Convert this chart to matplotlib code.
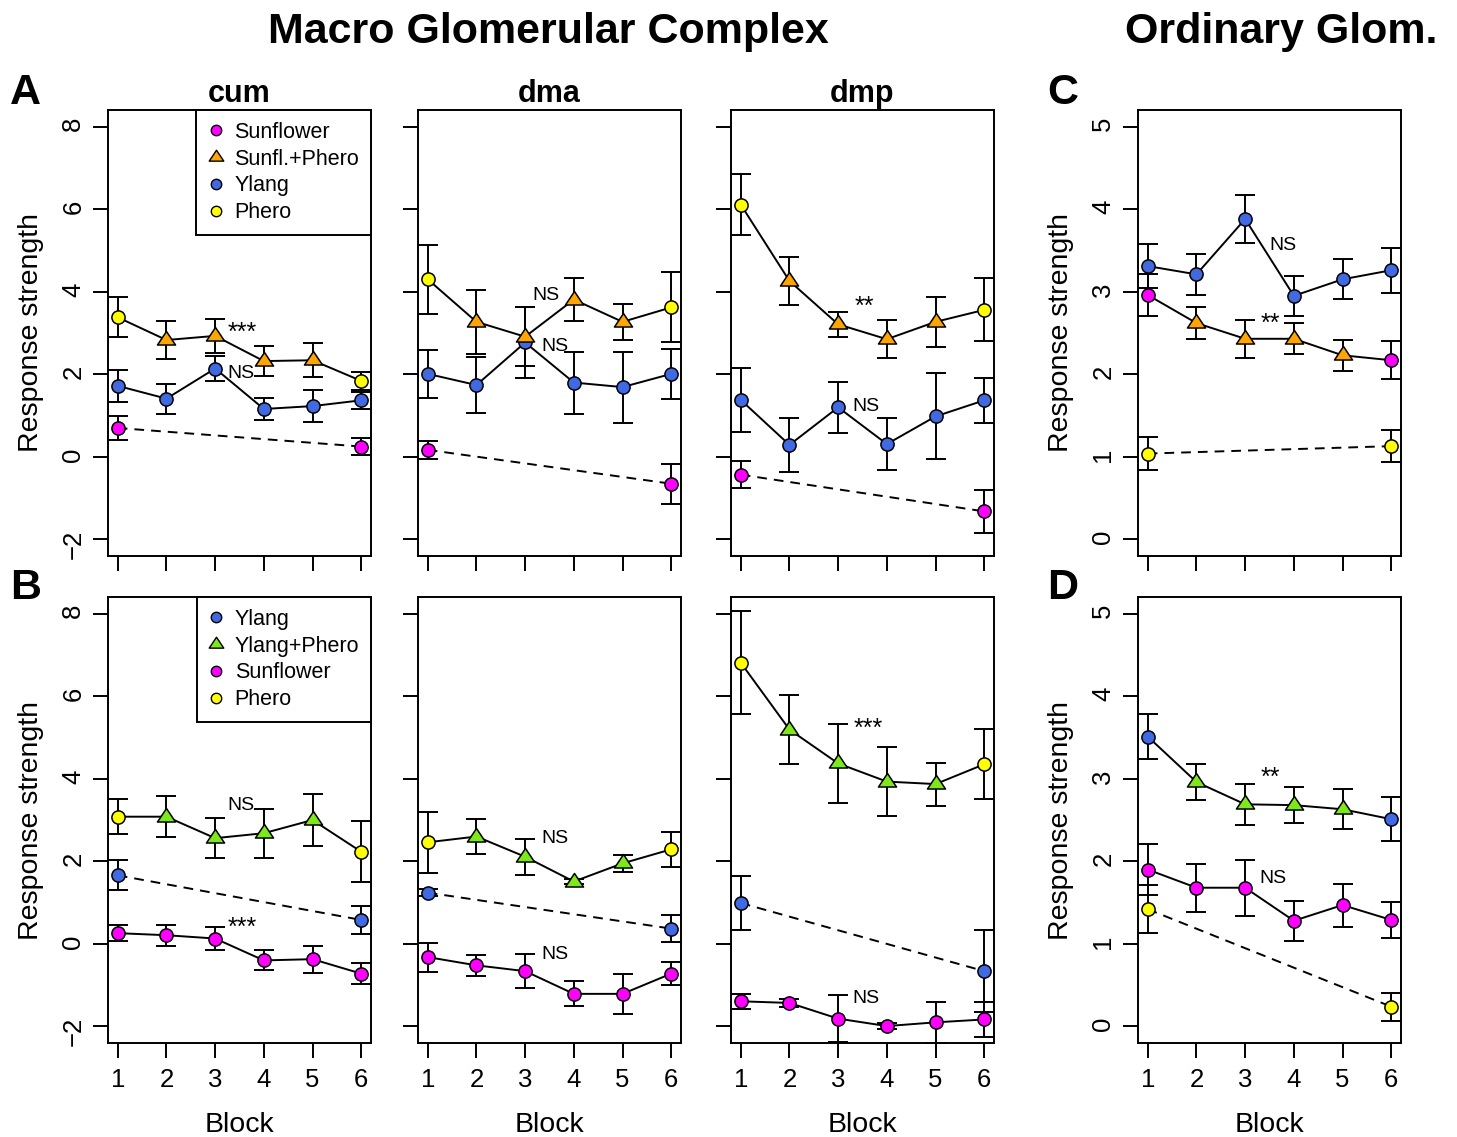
import matplotlib

matplotlib.use("Agg")

import matplotlib.pyplot as plt
from matplotlib.lines import Line2D
from matplotlib.path import Path

plt.rcParams["font.family"] = ["Liberation Sans", "DejaVu Sans"]

W, H = 1457, 1137

BLOCKS = [1, 2, 3, 4, 5, 6]
ENDS = [1, 6]

SUNF = "#FF00FF"
SUNF_PHERO = "#FFA500"
YLANG = "#4169E1"
PHERO = "#FFFF00"
YLANG_PHERO = "#7FE81A"

# ---- A: Sunflower vs Sunfl.+Phero (macro glomerular complex) ----
cum_a_ylang = [1.72, 1.41, 2.14, 1.16, 1.23, 1.37]
cum_a_ylang_err = [0.38, 0.36, 0.30, 0.27, 0.38, 0.20]
cum_a_mix = [3.38, 2.83, 2.93, 2.32, 2.34, 1.84]
cum_a_mix_err = [0.48, 0.47, 0.42, 0.36, 0.41, 0.22]
cum_a_sunf = [0.70, 0.25]
cum_a_sunf_err = [0.29, 0.20]

dma_a_ylang = [2.01, 1.74, 2.77, 1.80, 1.69, 2.01]
dma_a_ylang_err = [0.58, 0.67, 0.86, 0.75, 0.86, 0.60]
dma_a_mix = [4.30, 3.27, 2.91, 3.81, 3.27, 3.62]
dma_a_mix_err = [0.83, 0.77, 0.72, 0.51, 0.43, 0.85]
dma_a_sunf = [0.17, -0.65]
dma_a_sunf_err = [0.21, 0.48]

dmp_a_ylang = [1.38, 0.29, 1.20, 0.31, 0.98, 1.37]
dmp_a_ylang_err = [0.77, 0.65, 0.62, 0.63, 1.04, 0.54]
dmp_a_mix = [6.11, 4.26, 3.21, 2.85, 3.27, 3.56]
dmp_a_mix_err = [0.73, 0.59, 0.30, 0.46, 0.60, 0.76]
dmp_a_sunf = [-0.43, -1.32]
dmp_a_sunf_err = [0.33, 0.53]

# ---- C: ordinary glomeruli, sunflower training ----
ord_c_ylang = [3.31, 3.21, 3.88, 2.95, 3.15, 3.26]
ord_c_ylang_err = [0.27, 0.25, 0.29, 0.24, 0.24, 0.27]
ord_c_mix = [2.96, 2.62, 2.43, 2.43, 2.23, 2.17]
ord_c_mix_err = [0.25, 0.19, 0.23, 0.19, 0.19, 0.23]
ord_c_phero = [1.04, 1.13]
ord_c_phero_err = [0.20, 0.19]

# ---- B: Ylang vs Ylang+Phero (macro glomerular complex) ----
cum_b_sunf = [0.26, 0.21, 0.13, -0.40, -0.37, -0.72]
cum_b_sunf_err = [0.19, 0.25, 0.27, 0.24, 0.33, 0.26]
cum_b_mix = [3.08, 3.08, 2.56, 2.68, 3.00, 2.23]
cum_b_mix_err = [0.43, 0.49, 0.49, 0.59, 0.64, 0.74]
cum_b_ylang = [1.66, 0.58]
cum_b_ylang_err = [0.36, 0.34]

dma_b_sunf = [-0.32, -0.52, -0.66, -1.21, -1.21, -0.72]
dma_b_sunf_err = [0.35, 0.25, 0.42, 0.30, 0.48, 0.28]
dma_b_mix = [2.46, 2.60, 2.11, 1.51, 1.95, 2.29]
dma_b_mix_err = [0.74, 0.43, 0.44, 0.05, 0.20, 0.42]
dma_b_ylang = [1.24, 0.37]
dma_b_ylang_err = [0.08, 0.33]

dmp_b_sunf = [-1.39, -1.43, -1.81, -1.99, -1.90, -1.83]
dmp_b_sunf_err = [0.18, 0.10, 0.57, 0.08, 0.49, 0.42]
dmp_b_mix = [6.81, 5.19, 4.37, 3.93, 3.87, 4.35]
dmp_b_mix_err = [1.24, 0.84, 0.96, 0.83, 0.52, 0.85]
dmp_b_ylang = [0.99, -0.66]
dmp_b_ylang_err = [0.66, 1.00]

# ---- D: ordinary glomeruli, ylang training ----
ord_d_sunf = [1.90, 1.68, 1.68, 1.28, 1.47, 1.29]
ord_d_sunf_err = [0.31, 0.29, 0.34, 0.24, 0.26, 0.22]
ord_d_mix = [3.51, 2.96, 2.69, 2.68, 2.63, 2.51]
ord_d_mix_err = [0.27, 0.22, 0.25, 0.22, 0.24, 0.27]
ord_d_phero = [1.42, 0.24]
ord_d_phero_err = [0.29, 0.17]

MACRO_TICKS = [-2, 0, 2, 4, 6, 8]
ORD_TICKS = [0, 1, 2, 3, 4, 5]

TRI = Path([(-1, -0.5), (1, -0.5), (0, 1.0), (-1, -0.5)],
           [Path.MOVETO, Path.LINETO, Path.LINETO, Path.CLOSEPOLY])

LW = 1.4
CIRCLE_MS = 9.5
TRI_MS = 13
DASH = (0, (5, 3.6))


def rect(x0, y0, x1, y1):
    """Pixel box (top-left origin) to figure fraction rect."""
    return [x0 / W, 1 - y1 / H, (x1 - x0) / W, (y1 - y0) / H]


def errbars(ax, x, y, err):
    ax.errorbar(x, y, yerr=err, fmt="none", ecolor="black", elinewidth=LW,
                capsize=7, capthick=LW, zorder=2)


def dots(ax, x, y, color, marker="o", ms=CIRCLE_MS):
    ax.plot(x, y, ls="none", marker=marker, ms=ms, mfc=color, mec="black",
            mew=1.1, zorder=4)


def draw_panel(ax, solid, solid_err, solid_color, mix, mix_err, end_color,
               mix_color, dashed, dashed_err, dashed_color):
    ax.plot(ENDS, dashed, color="black", lw=LW, ls=DASH, zorder=2)
    errbars(ax, ENDS, dashed, dashed_err)
    errbars(ax, BLOCKS, solid, solid_err)
    errbars(ax, BLOCKS, mix, mix_err)
    ax.plot(BLOCKS, solid, color="black", lw=LW, zorder=3)
    ax.plot(BLOCKS, mix, color="black", lw=LW, zorder=3)
    dots(ax, ENDS, dashed, dashed_color)
    dots(ax, BLOCKS, solid, solid_color)
    dots(ax, BLOCKS[1:5], mix[1:5], mix_color, marker=TRI, ms=TRI_MS)
    dots(ax, ENDS, [mix[0], mix[-1]], end_color)


def style_axes(ax, yticks, ylim, show_y, show_x):
    ax.set_xlim(0.8, 6.2)
    ax.set_ylim(*ylim)
    ax.set_xticks(BLOCKS)
    ax.set_yticks(yticks)
    for s in ax.spines.values():
        s.set_linewidth(LW)
    ax.tick_params(axis="both", direction="out", length=10.8, width=LW,
                   labelsize=18.5)
    ax.tick_params(axis="x", pad=7, labelbottom=show_x)
    ax.tick_params(axis="y", pad=5.5, labelrotation=90, labelleft=show_y)


def legend(ax, entries):
    handles = [Line2D([], [], ls="none", marker=m, ms=ms, mfc=c, mec="black",
                      mew=1.0, label=lab) for lab, c, m, ms in entries]
    leg = ax.legend(handles=handles, loc="upper right", borderaxespad=0,
                    fancybox=False, edgecolor="black", framealpha=1,
                    fontsize=15.5, labelspacing=0.27, borderpad=0.55,
                    handlelength=0.75, handletextpad=0.47)
    leg.get_frame().set_linewidth(LW)
    leg.set_zorder(10)


def note(ax, x, y, s):
    size = 18 if s.startswith("*") else 14
    ax.text(x, y, s, fontsize=size, ha="center", va="baseline", zorder=5)


fig = plt.figure(figsize=(W / 100, H / 100), dpi=100)

cols_px = [(108, 371), (418, 681), (731, 994), (1138, 1401)]
rows_px = [(110, 556), (597, 1043)]

axes = {}
for r, (y0, y1) in enumerate(rows_px):
    for c, (x0, x1) in enumerate(cols_px):
        axes[(r, c)] = fig.add_axes(rect(x0, y0, x1, y1))

# top row
draw_panel(axes[(0, 0)], cum_a_ylang, cum_a_ylang_err, YLANG, cum_a_mix,
           cum_a_mix_err, PHERO, SUNF_PHERO, cum_a_sunf, cum_a_sunf_err, SUNF)
draw_panel(axes[(0, 1)], dma_a_ylang, dma_a_ylang_err, YLANG, dma_a_mix,
           dma_a_mix_err, PHERO, SUNF_PHERO, dma_a_sunf, dma_a_sunf_err, SUNF)
draw_panel(axes[(0, 2)], dmp_a_ylang, dmp_a_ylang_err, YLANG, dmp_a_mix,
           dmp_a_mix_err, PHERO, SUNF_PHERO, dmp_a_sunf, dmp_a_sunf_err, SUNF)
draw_panel(axes[(0, 3)], ord_c_ylang, ord_c_ylang_err, YLANG, ord_c_mix,
           ord_c_mix_err, SUNF, SUNF_PHERO, ord_c_phero, ord_c_phero_err, PHERO)

# bottom row
draw_panel(axes[(1, 0)], cum_b_sunf, cum_b_sunf_err, SUNF, cum_b_mix,
           cum_b_mix_err, PHERO, YLANG_PHERO, cum_b_ylang, cum_b_ylang_err, YLANG)
draw_panel(axes[(1, 1)], dma_b_sunf, dma_b_sunf_err, SUNF, dma_b_mix,
           dma_b_mix_err, PHERO, YLANG_PHERO, dma_b_ylang, dma_b_ylang_err, YLANG)
draw_panel(axes[(1, 2)], dmp_b_sunf, dmp_b_sunf_err, SUNF, dmp_b_mix,
           dmp_b_mix_err, PHERO, YLANG_PHERO, dmp_b_ylang, dmp_b_ylang_err, YLANG)
draw_panel(axes[(1, 3)], ord_d_sunf, ord_d_sunf_err, SUNF, ord_d_mix,
           ord_d_mix_err, YLANG, YLANG_PHERO, ord_d_phero, ord_d_phero_err, PHERO)

for (r, c), ax in axes.items():
    ordinary = c == 3
    style_axes(ax, ORD_TICKS if ordinary else MACRO_TICKS,
               (-0.2, 5.2) if ordinary else (-2.4, 8.4),
               show_y=c in (0, 3), show_x=r == 1)

# significance labels
note(axes[(0, 0)], 3.56, 2.83, "***")
note(axes[(0, 0)], 3.52, 1.91, "NS")
note(axes[(0, 1)], 3.42, 3.80, "NS")
note(axes[(0, 1)], 3.62, 2.57, "NS")
note(axes[(0, 2)], 3.54, 3.46, "**")
note(axes[(0, 2)], 3.58, 1.12, "NS")
note(axes[(0, 3)], 3.77, 3.51, "NS")
note(axes[(0, 3)], 3.52, 2.52, "**")
note(axes[(1, 0)], 3.52, 3.24, "NS")
note(axes[(1, 0)], 3.56, 0.22, "***")
note(axes[(1, 1)], 3.62, 2.44, "NS")
note(axes[(1, 1)], 3.62, -0.36, "NS")
note(axes[(1, 2)], 3.62, 5.03, "***")
note(axes[(1, 2)], 3.58, -1.42, "NS")
note(axes[(1, 3)], 3.52, 2.93, "**")
note(axes[(1, 3)], 3.58, 1.74, "NS")

legend(axes[(0, 0)], [("Sunflower", SUNF, "o", 7.5),
                      ("Sunfl.+Phero", SUNF_PHERO, TRI, 10.5),
                      ("Ylang", YLANG, "o", 7.5),
                      ("Phero", PHERO, "o", 7.5)])
legend(axes[(1, 0)], [("Ylang", YLANG, "o", 7.5),
                      ("Ylang+Phero", YLANG_PHERO, TRI, 10.5),
                      ("Sunflower", SUNF, "o", 7.5),
                      ("Phero", PHERO, "o", 7.5)])


def ftext(px, py, s, **kw):
    fig.text(px / W, 1 - py / H, s, **kw)


# titles and labels
ftext(548, 43, "Macro Glomerular Complex", fontsize=31, fontweight="bold",
      ha="center", va="baseline")
ftext(1281, 43, "Ordinary Glom.", fontsize=31, fontweight="bold",
      ha="center", va="baseline")
for (x0, x1), name in zip(cols_px[:3], ["cum", "dma", "dmp"]):
    ftext((x0 + x1) / 2, 102, name, fontsize=22, fontweight="bold",
          ha="center", va="baseline")
for px, py, letter in [(10, 104, "A"), (10, 599, "B"), (1047, 104, "C"),
                       (1047, 599, "D")]:
    ftext(px, py, letter, fontsize=31, fontweight="bold", ha="left",
          va="baseline")
for (y0, y1) in rows_px:
    for px in (31, 1061):
        ftext(px, (y0 + y1) / 2, "Response strength", fontsize=20.5,
              rotation=90, ha="center", va="center")
for (x0, x1) in cols_px:
    ftext((x0 + x1) / 2, 1132, "Block", fontsize=20.5, ha="center",
          va="baseline")

fig.savefig("out.png", dpi=100)
